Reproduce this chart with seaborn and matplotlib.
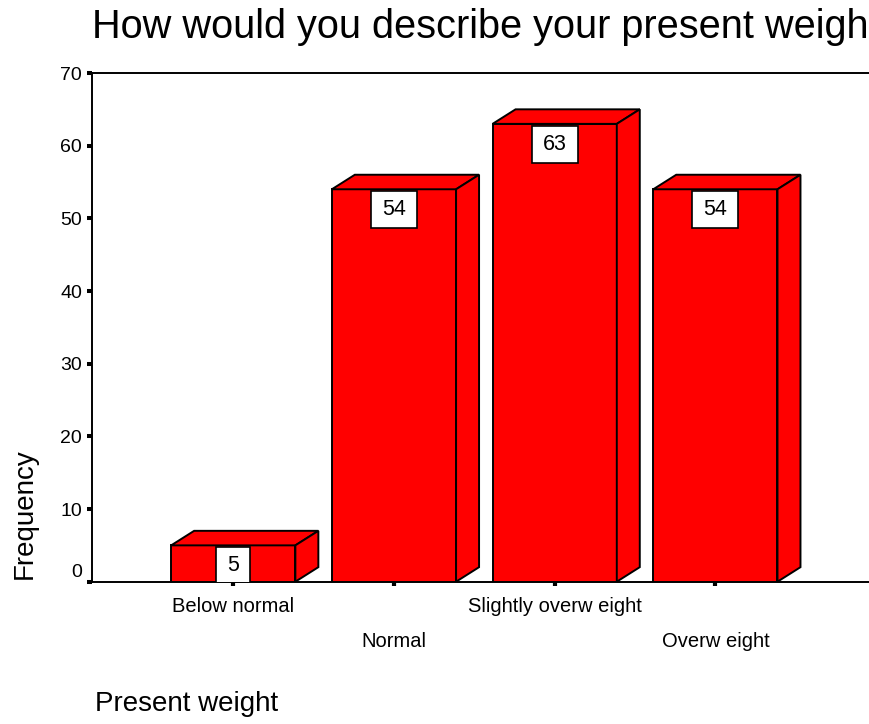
import matplotlib
matplotlib.use("Agg")
import matplotlib.pyplot as plt
import matplotlib.transforms as mtransforms
from matplotlib.patches import Polygon, Rectangle
import seaborn as sns

# data
categories = ["Below normal", "Normal", "Slightly overw eight", "Overw eight"]
counts = [5, 54, 63, 54]
y_ticks = [0, 10, 20, 30, 40, 50, 60, 70]

sns.set_style("white")
plt.rcParams["font.family"] = ["Liberation Sans", "DejaVu Sans"]
plt.rcParams["text.color"] = "black"
plt.rcParams["axes.labelcolor"] = "black"
plt.rcParams["xtick.color"] = "black"
plt.rcParams["ytick.color"] = "black"

fig = plt.figure(figsize=(8.69, 7.24), dpi=100)
ax = fig.add_axes([0.10587, 0.19655, 0.92060, 0.70262])

RED = "#ff0000"
sns.barplot(x=categories, y=counts, color=RED, saturation=1, width=0.773,
            edgecolor="black", linewidth=1.4, ax=ax, zorder=3)

ax.set_xlim(-0.879, 4.099)
ax.set_ylim(0, 70)
ax.set_yticks(y_ticks)

# 3d depth of the bars (data units)
dx, dy = 0.143, 2.0
for p in list(ax.patches):
    p.set_joinstyle("miter")
    x0, w, h = p.get_x(), p.get_width(), p.get_height()
    top = Polygon([(x0, h), (x0 + dx, h + dy), (x0 + w + dx, h + dy), (x0 + w, h)],
                  closed=True, facecolor=RED, edgecolor="black", lw=1.4,
                  joinstyle="miter", zorder=3)
    side = Polygon([(x0 + w, 0), (x0 + w, h), (x0 + w + dx, h + dy), (x0 + w + dx, dy)],
                   closed=True, facecolor=RED, edgecolor="black", lw=1.4,
                   joinstyle="miter", zorder=3)
    ax.add_patch(top)
    ax.add_patch(side)

# value boxes under the top of each bar
gap, hbox = 0.02, 0.37
for i, v in enumerate(counts):
    lab = str(v)
    wbox = (22 + 12 * len(lab)) / 100
    tr = fig.dpi_scale_trans + mtransforms.ScaledTranslation(i, v, ax.transData)
    ax.add_patch(Rectangle((-wbox / 2, -gap - hbox), wbox, hbox, transform=tr,
                           facecolor="white", edgecolor="black", lw=1.2, zorder=4))
    ax.annotate(lab, xy=(i, v), xytext=(0, -(gap + hbox / 2) * 72),
                textcoords="offset points", ha="center", va="center",
                fontsize=15.5, zorder=5)

for s in ["left", "bottom", "top"]:
    ax.spines[s].set_visible(True)
    ax.spines[s].set_color("black")
    ax.spines[s].set_linewidth(1.4)
ax.spines["right"].set_visible(False)

ax.tick_params(axis="y", direction="out", length=3.6, width=2.9, pad=3.6,
               labelsize=14, left=True, color="black")
ax.tick_params(axis="x", direction="out", length=3, width=3, pad=8,
               labelsize=14.5, bottom=True, color="black")

# staggered x labels, lifted 0 label
for k, t in enumerate(ax.get_xticklabels()):
    if k % 2 == 1:
        t.set_transform(t.get_transform() +
                        mtransforms.ScaledTranslation(0, -0.35, fig.dpi_scale_trans))
yl = ax.get_yticklabels()
yl[0].set_transform(yl[0].get_transform() +
                    mtransforms.ScaledTranslation(0, 0.11, fig.dpi_scale_trans))

ax.set_title("How would you describe your present weight", loc="left",
             fontsize=28.6, pad=25)
ax.set_xlabel("Present weight", fontsize=20, loc="left")
ax.xaxis.set_label_coords(0.004, -0.215)
ax.set_ylabel("Frequency", fontsize=20, loc="bottom")
ax.yaxis.set_label_coords(-0.0675, 0.005)

fig.savefig("out.png", dpi=100, facecolor="white")
